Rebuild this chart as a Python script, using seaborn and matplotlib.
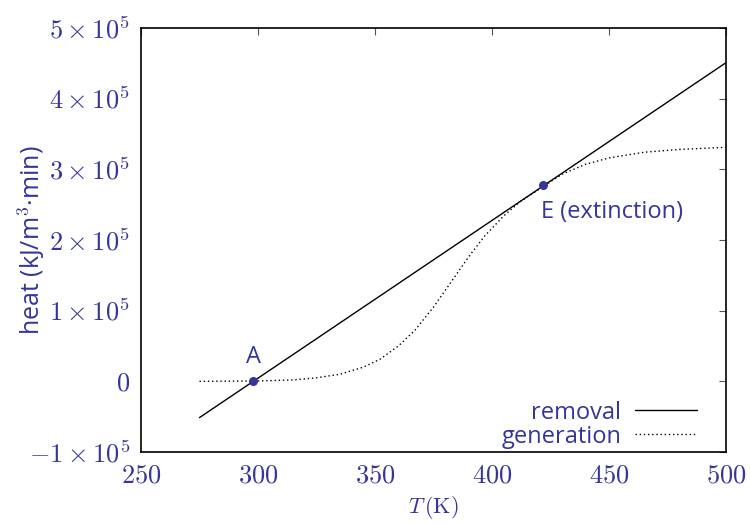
import numpy as np
import pandas as pd
import seaborn as sns
import matplotlib.pyplot as plt

# 読み取ったデータ（温度 K、熱 kJ/m3·min）
T_removal = [275, 500]
q_removal = [-0.513e5, 4.507e5]

T_gen = [275, 300, 315, 325, 335, 345, 352, 360, 367, 375, 382, 390, 397, 405, 412,
         418, 422, 430, 440, 450, 465, 480, 500]
q_gen = [0, 0.005e5, 0.02e5, 0.05e5, 0.10e5, 0.20e5, 0.31e5, 0.50e5, 0.72e5, 1.05e5,
         1.38e5, 1.76e5, 2.06e5, 2.34e5, 2.54e5, 2.67e5, 2.76e5, 2.93e5, 3.07e5,
         3.16e5, 3.24e5, 3.28e5, 3.31e5]

pt_names = ['A', 'E (extinction)']
pt_T = [298, 422]
pt_q = [0, 2.77e5]

yticks = [-1e5, 0, 1e5, 2e5, 3e5, 4e5, 5e5]
ytick_labels = [r'$-1\times10^5$', '$0$', r'$1\times10^5$', r'$2\times10^5$',
                r'$3\times10^5$', r'$4\times10^5$', r'$5\times10^5$']
xticks = [250, 300, 350, 400, 450, 500]

blue = '#35359a'

sns.set_style('white')
plt.rcParams['font.family'] = ['Open Sans', 'DejaVu Sans']
plt.rcParams['mathtext.fontset'] = 'cm'

df_rem = pd.DataFrame({'T': T_removal, 'q': q_removal})
df_gen = pd.DataFrame({'T': T_gen, 'q': q_gen})

fig, ax = plt.subplots(figsize=(7.5, 5.25), dpi=100)
fig.subplots_adjust(left=0.188, right=0.968, top=0.947, bottom=0.139)

sns.lineplot(data=df_rem, x='T', y='q', ax=ax, color='black', lw=1.0, label='removal')
sns.lineplot(data=df_gen, x='T', y='q', ax=ax, color='black', lw=1.0, ls=(0, (1, 2)), label='generation')
ax.scatter(pt_T, pt_q, color=blue, s=30, zorder=5)
ax.text(pt_T[0], pt_q[0] + 0.17e5, pt_names[0], color=blue, fontsize=17, ha='center', va='bottom')
ax.text(pt_T[1] - 1, pt_q[1] - 0.2e5, pt_names[1], color=blue, fontsize=17, ha='left', va='top')

ax.set_xlim(250, 500)
ax.set_ylim(-1e5, 5e5)
ax.set_xticks(xticks)
ax.set_xticklabels([f'${v}$' for v in xticks])
ax.set_yticks(yticks)
ax.set_yticklabels(ytick_labels)
ax.tick_params(direction='in', length=5, width=0.8, top=True, right=True,
               labelsize=19, labelcolor=blue, color='#555555', pad=8)
for s in ax.spines.values():
    s.set_color('black')
    s.set_linewidth(1.2)

ax.set_xlabel(r'$T\,(\mathrm{K})$', color=blue, fontsize=16, labelpad=4)
ax.set_ylabel('heat (kJ/m$^3$·min)', color=blue, fontsize=18)
ax.yaxis.set_label_coords(-0.16, 0.5)

leg = ax.legend(loc='lower right', frameon=False, markerfirst=False, fontsize=17,
                handlelength=2.6, bbox_to_anchor=(0.97, -0.02), borderaxespad=0.1,
                labelspacing=0.0, handletextpad=0.6)
for t in leg.get_texts():
    t.set_color(blue)

plt.savefig('out.png', dpi=100)
